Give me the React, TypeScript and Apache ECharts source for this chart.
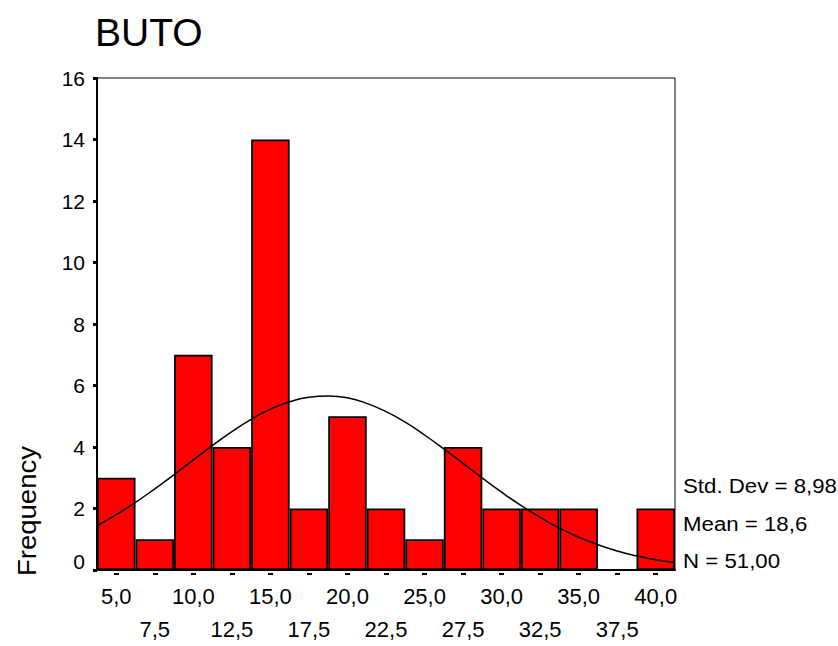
import React, { useEffect, useRef } from "react";
import * as echarts from "echarts";

const binLabels = ["5,0", "7,5", "10,0", "12,5", "15,0", "17,5", "20,0", "22,5", "25,0", "27,5", "30,0", "32,5", "35,0", "37,5", "40,0"];
const frequencies = [3, 1, 7, 4, 14, 2, 5, 2, 1, 4, 2, 2, 2, 0, 2];
const yTicks = [0, 2, 4, 6, 8, 10, 12, 14, 16];
const curveX = [3.75, 5, 6.25, 7.5, 8.75, 10, 11.25, 12.5, 13.75, 15, 16.25, 17.5, 18.75, 20, 21.25, 22.5, 23.75, 25, 26.25, 27.5, 28.75, 30, 31.25, 32.5, 33.75, 35, 36.25, 37.5, 38.75, 40, 41.25];
const curveY = [1.44, 1.8, 2.2, 2.64, 3.1, 3.58, 4.05, 4.5, 4.9, 5.23, 5.47, 5.62, 5.66, 5.6, 5.42, 5.15, 4.81, 4.39, 3.94, 3.47, 2.99, 2.53, 2.1, 1.71, 1.36, 1.07, 0.82, 0.62, 0.46, 0.33, 0.24];
const statLines = ["Std. Dev = 8,98", "Mean = 18,6", "N = 51,00"];
const chartTitle = "BUTO";
const yTitle = "Frequency";

const FONT = "'Liberation Sans', Arial, sans-serif";

export default function App() {
  const ref = useRef<HTMLDivElement>(null);
  useEffect(() => {
    if (!ref.current) return;
    const chart = echarts.init(ref.current, null, { renderer: "svg" });
    chart.setOption({
      animation: false,
      backgroundColor: "#fff",
      textStyle: { fontFamily: FONT },
      grid: { left: 97, top: 78, right: 163, bottom: 68, show: true, borderColor: "#000", borderWidth: 1, backgroundColor: "transparent" },
      xAxis: [
        {
          type: "category",
          data: binLabels,
          boundaryGap: true,
          axisLine: { lineStyle: { color: "#000", width: 2 } },
          axisTick: { show: true, alignWithLabel: true, length: 5, inside: false, lineStyle: { color: "#000", width: 5, type: [0, 3, 2, 20] } },
          axisLabel: {
            color: "#000",
            fontSize: 22,
            fontFamily: FONT,
            margin: 10,
            lineHeight: 33,
            interval: 0,
            formatter: (v: string, i: number) => (i % 2 === 1 ? "\n" + v : v + "\n"),
          },
          splitLine: { show: false },
        },
        {
          type: "value",
          min: 3.75,
          max: 41.25,
          show: false,
        },
      ],
      yAxis: {
        type: "value",
        min: yTicks[0],
        max: yTicks[yTicks.length - 1],
        interval: 2,
        axisLine: { show: true, lineStyle: { color: "#000", width: 2 } },
        axisTick: { show: true, length: 4, lineStyle: { color: "#000", width: 3 } },
        axisLabel: {
          color: "#000",
          fontSize: 21,
          fontFamily: FONT,
          margin: 12,
          formatter: (v: number) => (v === 0 ? "{lo|0}" : String(v)),
          rich: { lo: { fontSize: 21, fontFamily: FONT, color: "#000", padding: [0, 0, 18, 0] } },
        },
        splitLine: { show: false },
      },
      series: [
        {
          type: "bar",
          xAxisIndex: 0,
          data: frequencies,
          barCategoryGap: "0%",
          barGap: "0%",
          itemStyle: { color: "#ff0000", borderColor: "#000", borderWidth: 1.8 },
        },
        {
          type: "line",
          xAxisIndex: 1,
          data: curveX.map((x, i) => [x, curveY[i]]),
          smooth: true,
          showSymbol: false,
          symbol: "none",
          lineStyle: { color: "#000", width: 1.5 },
          z: 5,
        },
      ],
      graphic: [
        { type: "text", left: 95, top: 13, style: { text: chartTitle, fontSize: 39, fontFamily: FONT, fill: "#000" } },
        {
          type: "text",
          x: 27,
          y: 511,
          rotation: Math.PI / 2,
          scaleX: 1.1,
          style: { text: yTitle, fontSize: 25, fontFamily: FONT, fill: "#000", align: "center", verticalAlign: "middle" },
        },
        ...statLines.map((t, i) => ({
          type: "text",
          x: 683,
          y: 486 + i * 37.5,
          scaleX: 1.06,
          style: { text: t, fontSize: 21, fontFamily: FONT, fill: "#000", align: "left", verticalAlign: "middle" },
        })),
      ],
    });
    return () => chart.dispose();
  }, []);
  return <div ref={ref} style={{ position: "fixed", left: 0, top: 0, width: 838, height: 646 }} />;
}
